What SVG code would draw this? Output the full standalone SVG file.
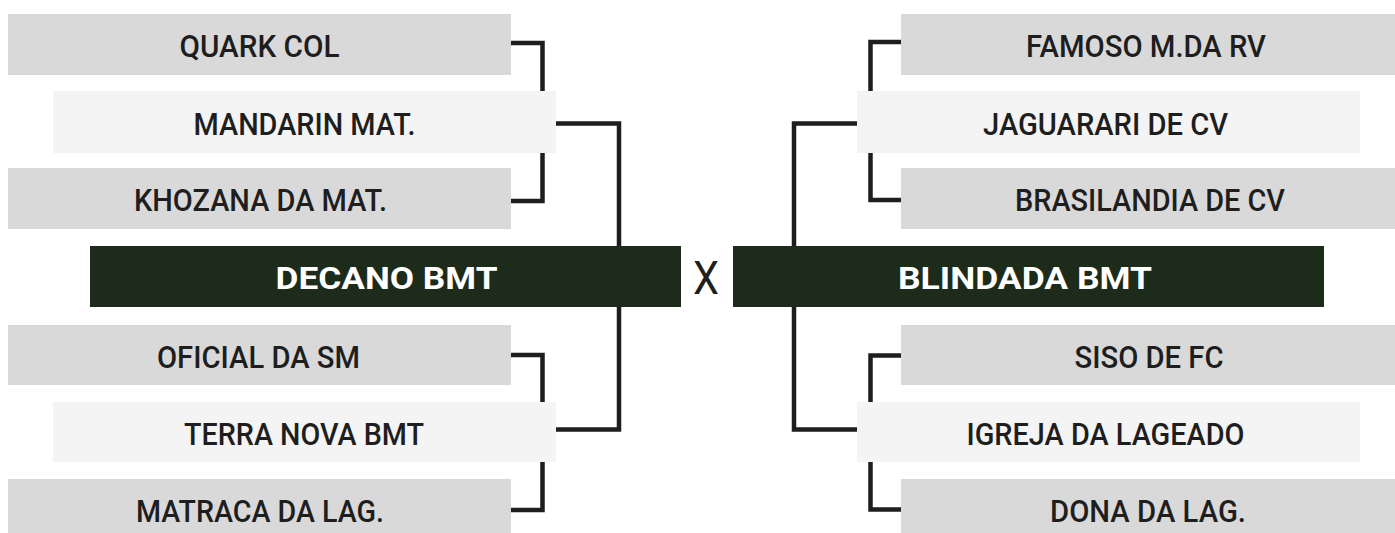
<svg xmlns="http://www.w3.org/2000/svg" width="1395" height="533" viewBox="0 0 1395 533">
<style>
.g{fill:#d9d9d9}
.l{fill:#f4f4f4}
.d{fill:#1c2b1a}
.t{font-family:Roboto,"Liberation Sans",sans-serif;font-weight:500;font-size:32px;fill:#1e1e1e;text-anchor:middle}
.h{font-family:Roboto,"Liberation Sans",sans-serif;font-weight:700;font-size:32px;fill:#ffffff;text-anchor:middle}
.x{font-family:Roboto,"Liberation Sans",sans-serif;font-weight:400;font-size:46px;fill:#1e1e1e;text-anchor:middle}
.c{fill:none;stroke:#1e1e1e;stroke-width:4.5;stroke-linejoin:miter;stroke-linecap:butt}
</style>
<rect width="1395" height="533" fill="#ffffff"/>
<g id="connectors">
<path class="c" d="M511,43 H542.5 V201 H511"/>
<path class="c" d="M556,123.5 H619 V429.5 H556"/>
<path class="c" d="M511,355 H542.5 V510 H511"/>
<path class="c" d="M901,42 H870.5 V200 H901"/>
<path class="c" d="M857,123.5 H794 V429.5 H857"/>
<path class="c" d="M901,355.5 H870.5 V509.5 H901"/>
</g>
<g id="quark-col"><rect class="g" x="8" y="14" width="503" height="61"/><text class="t" x="259.5" y="57" textLength="160" lengthAdjust="spacingAndGlyphs">QUARK COL</text></g>
<g id="mandarin-mat"><rect class="l" x="53" y="91" width="503" height="62"/><text class="t" x="304.5" y="135" textLength="222" lengthAdjust="spacingAndGlyphs">MANDARIN MAT.</text></g>
<g id="khozana-da-mat"><rect class="g" x="8" y="168" width="503" height="61"/><text class="t" x="260.5" y="211" textLength="253" lengthAdjust="spacingAndGlyphs">KHOZANA DA MAT.</text></g>
<g id="decano-bmt"><rect class="d" x="90" y="246" width="591" height="61"/><text class="h" x="386.5" y="289" textLength="222" lengthAdjust="spacingAndGlyphs">DECANO BMT</text></g>
<g id="oficial-da-sm"><rect class="g" x="8" y="325" width="503" height="60"/><text class="t" x="258.5" y="367.5" textLength="203" lengthAdjust="spacingAndGlyphs">OFICIAL DA SM</text></g>
<g id="terra-nova-bmt"><rect class="l" x="53" y="402" width="503" height="60"/><text class="t" x="304" y="444.5" textLength="240" lengthAdjust="spacingAndGlyphs">TERRA NOVA BMT</text></g>
<g id="matraca-da-lag"><rect class="g" x="8" y="479" width="503" height="61"/><text class="t" x="260" y="522" textLength="248" lengthAdjust="spacingAndGlyphs">MATRACA DA LAG.</text></g>
<g id="versus"><text class="x" x="706" y="294" textLength="26" lengthAdjust="spacingAndGlyphs">X</text></g>
<g id="famoso-m-da-rv"><rect class="g" x="901" y="14" width="500" height="61"/><text class="t" x="1146" y="57" textLength="240" lengthAdjust="spacingAndGlyphs">FAMOSO M.DA RV</text></g>
<g id="jaguarari-de-cv"><rect class="l" x="857" y="91" width="503" height="62"/><text class="t" x="1105.5" y="135" textLength="245" lengthAdjust="spacingAndGlyphs">JAGUARARI DE CV</text></g>
<g id="brasilandia-de-cv"><rect class="g" x="901" y="168" width="500" height="61"/><text class="t" x="1150" y="211" textLength="270" lengthAdjust="spacingAndGlyphs">BRASILANDIA DE CV</text></g>
<g id="blindada-bmt"><rect class="d" x="733" y="246" width="591" height="61"/><text class="h" x="1025" y="289" textLength="254" lengthAdjust="spacingAndGlyphs">BLINDADA BMT</text></g>
<g id="siso-de-fc"><rect class="g" x="901" y="325" width="500" height="60"/><text class="t" x="1149" y="367.5" textLength="149" lengthAdjust="spacingAndGlyphs">SISO DE FC</text></g>
<g id="igreja-da-lageado"><rect class="l" x="857" y="402" width="503" height="60"/><text class="t" x="1105.5" y="444.5" textLength="278" lengthAdjust="spacingAndGlyphs">IGREJA DA LAGEADO</text></g>
<g id="dona-da-lag"><rect class="g" x="901" y="479" width="500" height="61"/><text class="t" x="1148" y="522" textLength="196" lengthAdjust="spacingAndGlyphs">DONA DA LAG.</text></g>
</svg>
